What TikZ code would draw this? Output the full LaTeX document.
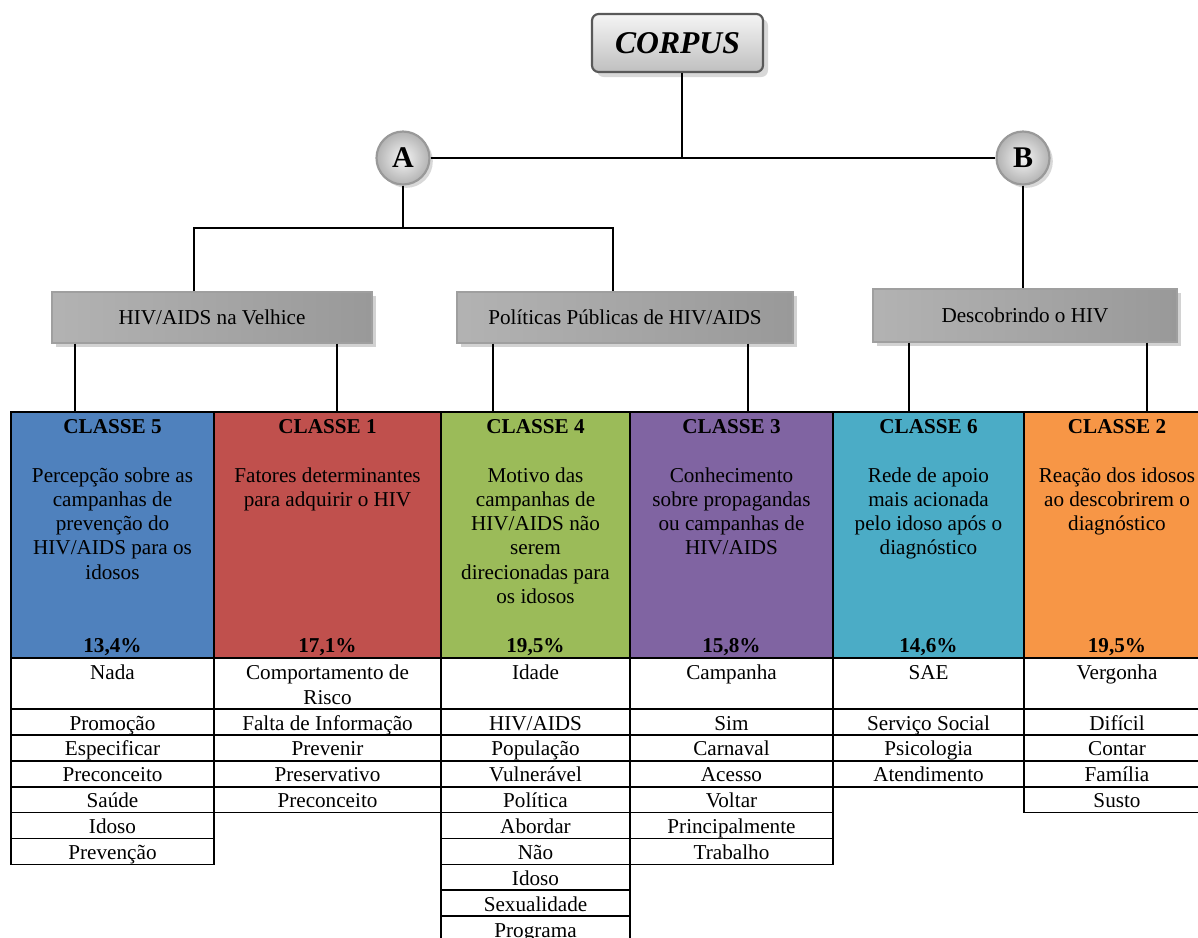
\documentclass[tikz,border=0pt]{standalone}
\usepackage{fontspec}
\setmainfont{Liberation Serif}
\usetikzlibrary{fit,shadows}
\definecolor{cblue}{HTML}{4F81BD}
\definecolor{cred}{HTML}{C0504D}
\definecolor{cgreen}{HTML}{9BBB59}
\definecolor{cpurple}{HTML}{8064A2}
\definecolor{ccyan}{HTML}{4BACC6}
\definecolor{corange}{HTML}{F79646}
\newcommand\myfs{\fontsize{12.7}{14.4}\selectfont}
\newcommand\wordcol[5]{%
  \draw[cell] (#2,658) rectangle (#3,709);
  \node[anchor=base] (#1-0) at ({(#2+#3)/2},679) {#4};
  \foreach \w [count=\i] in {#5} {
    \draw[cell] (#2,{709+(\i-1)*25.9}) rectangle (#3,{709+\i*25.9});
    \node[anchor=base] (#1-\i) at ({(#2+#3)/2},{730+(\i-1)*25.9}) {\w};
  }}
\newcommand\desclines[3]{%
  \foreach \l [count=\i] in {#3} {
    \node[anchor=base] (#1-\i) at (#2,{482+(\i-1)*24.3}) {\l};
  }}
\begin{document}
\begin{tikzpicture}[x=0.6pt,y=-0.6pt,
  every node/.style={font=\myfs},
  conn/.style={draw=black, line width=0.9pt},
  cell/.style={draw=black, line width=1pt},
  graybox/.style={draw=gray!75, line width=0.8pt, inner sep=0,
    left color=gray!60, middle color=gray!15, right color=gray!80,
    drop shadow={shadow xshift=2.5pt, shadow yshift=-2.5pt, fill=gray!70}},
  ball/.style={circle, draw=gray!80, line width=1.3pt, inner sep=0, minimum size=31.8pt,
    shading=radial, inner color=gray!8, outer color=gray!60,
    drop shadow={shadow xshift=2pt, shadow yshift=-2pt, fill=gray!60},
    font=\fontsize{18}{20}\selectfont\bfseries},
  corpusbox/.style={draw=gray!70!black, line width=1.3pt, rounded corners=4pt, inner sep=0,
    top color=gray!8, bottom color=gray!50,
    drop shadow={shadow xshift=3pt, shadow yshift=-3pt, fill=gray!60}},
  colbox/.style={draw=black, line width=1.2pt, inner sep=0},
  head/.style={anchor=base, font=\myfs\bfseries}
]
\useasboundingbox (0,0) rectangle (1198,937);
\clip (0,0) rectangle (1198,937);

% top
\node[corpusbox, fit={(592,14)(763,72)}] (corpus) {};
\node (corpustxt) at (corpus.center) {\fontsize{19}{22}\selectfont\bfseries\itshape CORPUS};
\node[ball] (A) at (403,158) {A};
\node[ball] (B) at (1023,158) {B};
\coordinate (j0) at (682,158);
\draw[conn] (j0 |- corpus.south) -- (j0);
\draw[conn] (A) -- (B);

% category boxes
\node[graybox, fit={(52,292)(372,343)}] (h1) {};
\node (h1t) at (h1.center) {HIV/AIDS na Velhice};
\node[graybox, fit={(457,292)(793,343)}] (h2) {};
\node (h2t) at (h2.center) {Políticas Públicas de HIV/AIDS};
\node[graybox, fit={(873,289)(1177,342)}] (h3) {};
\node (h3t) at (h3.center) {Descobrindo o HIV};

\coordinate (jl) at (194,228);
\coordinate (jr) at (613,228);
\draw[conn] (A.south) -- (A.south |- jl);
\draw[conn] (h1.north -| jl) -- (jl) -- (jr) -- (h2.north -| jr);
\draw[conn] (B.south) -- (B.south |- h3.north);

% class columns
\node[colbox, fill=cblue,   fit={(11,412)(214,658)}] (c5) {};
\node[colbox, fill=cred,    fit={(214,412)(441,658)}] (c1) {};
\node[colbox, fill=cgreen,  fit={(441,412)(630,658)}] (c4) {};
\node[colbox, fill=cpurple, fit={(630,412)(833,658)}] (c3) {};
\node[colbox, fill=ccyan,   fit={(833,412)(1024,658)}] (c6) {};
\node[colbox, fill=corange, fit={(1024,412)(1210,658)}] (c2) {};

\coordinate (d1) at (75,0);
\coordinate (d2) at (337,0);
\coordinate (d3) at (493,0);
\coordinate (d4) at (748,0);
\coordinate (d5) at (909,0);
\coordinate (d6) at (1147,0);
\draw[conn] (h1.south -| d1) -- (c5.north -| d1);
\draw[conn] (h1.south -| d2) -- (c1.north -| d2);
\draw[conn] (h2.south -| d3) -- (c4.north -| d3);
\draw[conn] (h2.south -| d4) -- (c3.north -| d4);
\draw[conn] (h3.south -| d5) -- (c6.north -| d5);
\draw[conn] (h3.south -| d6) -- (c2.north -| d6);

% headings
\node[head] (k5) at (112.5,433) {CLASSE 5};
\node[head] (k1) at (327.5,433) {CLASSE 1};
\node[head] (k4) at (535.5,433) {CLASSE 4};
\node[head] (k3) at (731.5,433) {CLASSE 3};
\node[head] (k6) at (928.5,433) {CLASSE 6};
\node[head] (k2) at (1117,433) {CLASSE 2};

\desclines{e5}{112.5}{Percepção sobre as,campanhas de,prevenção do,HIV/AIDS para os,idosos}
\desclines{e1}{327.5}{Fatores determinantes,para adquirir o HIV}
\desclines{e4}{535.5}{Motivo das,campanhas de,HIV/AIDS não,serem,direcionadas para,os idosos}
\desclines{e3}{731.5}{Conhecimento,sobre propagandas,ou campanhas de,HIV/AIDS}
\desclines{e6}{928.5}{Rede de apoio,mais acionada,pelo idoso após o,diagnóstico}
\desclines{e2}{1117}{Reação dos idosos,ao descobrirem o,diagnóstico}

\node[head] (p5) at (112.5,652) {13,4\%};
\node[head] (p1) at (327.5,652) {17,1\%};
\node[head] (p4) at (535.5,652) {19,5\%};
\node[head] (p3) at (731.5,652) {15,8\%};
\node[head] (p6) at (928.5,652) {14,6\%};
\node[head] (p2) at (1117,652) {19,5\%};

% word tables
\wordcol{w5}{11}{214}{Nada}{Promoção,Especificar,Preconceito,Saúde,Idoso,Prevenção}
\wordcol{w1}{214}{441}{Comportamento de}{Falta de Informação,Prevenir,Preservativo,Preconceito}
\node[anchor=base] (w1-r) at (327.5,704) {Risco};
\wordcol{w4}{441}{630}{Idade}{HIV/AIDS,População,Vulnerável,Política,Abordar,Não,Idoso,Sexualidade,Programa}
\wordcol{w3}{630}{833}{Campanha}{Sim,Carnaval,Acesso,Voltar,Principalmente,Trabalho}
\wordcol{w6}{833}{1024}{SAE}{Serviço Social,Psicologia,Atendimento}
\wordcol{w2}{1024}{1210}{Vergonha}{Difícil,Contar,Família,Susto}
\end{tikzpicture}
\end{document}
